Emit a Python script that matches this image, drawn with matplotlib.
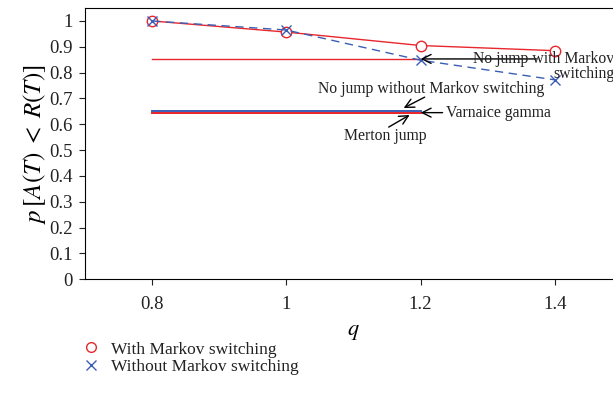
import numpy as np
import matplotlib
matplotlib.use('Agg')
import matplotlib.pyplot as plt
from matplotlib.lines import Line2D

plt.rcParams['font.family'] = ['Liberation Serif', 'DejaVu Serif']
plt.rcParams['mathtext.fontset'] = 'stix'
plt.rcParams['text.color'] = '#222222'
plt.rcParams['xtick.color'] = '#222222'
plt.rcParams['ytick.color'] = '#222222'

q = [0.8, 1.0, 1.2, 1.4]
with_markov = [1.0, 0.957, 0.905, 0.885]
without_markov = [1.0, 0.965, 0.848, 0.772]

# constant levels of the other models, drawn over q in [0.8, 1.2]
nojump_with = 0.853
nojump_without = 0.652
varnaice_gamma = 0.645
merton_jump = 0.642
level_span = [0.8, 1.2]

red = '#e8262b'
blue = '#3b5eb4'

fig = plt.figure(figsize=(6.13, 4.04), dpi=100)
ax = fig.add_axes([0.1387, 0.309, 0.876, 0.671])

ax.plot(level_span, [nojump_with]*2, color=red, lw=1.0)
ax.plot(level_span, [nojump_without]*2, color=blue, lw=1.4)
ax.plot(level_span, [varnaice_gamma]*2, color=red, lw=1.3)
ax.plot(level_span, [merton_jump]*2, color=red, lw=1.3)

ax.plot(q, with_markov, color=red, lw=1.0, marker='o', ms=7.5, mfc='white', mec=red, mew=1.0)
ax.plot(q, without_markov, color=blue, lw=1.0, ls=(0, (6, 4)), marker='x', ms=7.5, mec=blue, mew=1.0)

# annotations: arrows and labels drawn separately
arrow = dict(arrowstyle='->', color='black', lw=1.0, shrinkA=0, shrinkB=0, mutation_scale=16)
fs = 11.3
ax.annotate('', xy=(1.2, nojump_with), xytext=(1.3725, nojump_with), arrowprops=arrow)
ax.text(1.2773, nojump_with, 'No jump with Markov', ha='left', va='center', fontsize=fs)
ax.text(1.4885, 0.795, 'switching', ha='right', va='center', fontsize=fs)

ax.annotate('', xy=(1.1747, 0.663), xytext=(1.206, 0.705), arrowprops=arrow)
ax.text(1.2149, 0.736, 'No jump without Markov switching', ha='center', va='center', fontsize=fs)

ax.annotate('', xy=(1.2, varnaice_gamma), xytext=(1.2327, varnaice_gamma), arrowprops=arrow)
ax.text(1.2372, varnaice_gamma, 'Varnaice gamma', ha='left', va='center', fontsize=fs)

ax.annotate('', xy=(1.1836, 0.636), xytext=(1.1524, 0.589), arrowprops=arrow)
ax.text(1.148, 0.554, 'Merton jump', ha='center', va='center', fontsize=fs)

ax.set_xlim(0.7, 1.5)
ax.set_ylim(0, 1.05)
ax.set_xticks([0.8, 1.0, 1.2, 1.4])
ax.set_xticklabels(['0.8', '1', '1.2', '1.4'])
ax.set_yticks(np.arange(0, 1.01, 0.1))
ax.set_yticklabels(['0'] + ['%.1f' % v for v in np.arange(0.1, 0.95, 0.1)] + ['1'])
ax.tick_params(direction='out', length=4, width=0.8, labelsize=13.5, pad=5)
ax.tick_params(axis='x', pad=8)
ax.set_xlabel('$q$', fontsize=16, labelpad=7)
ax.set_ylabel(r'$p\,[A(T)\;<\;R(T)]$', fontsize=18, labelpad=1)
for s in ax.spines.values():
    s.set_linewidth(0.8)

handles = [Line2D([], [], ls='none', marker='o', ms=7, mfc='white', mec=red, mew=1.0),
           Line2D([], [], ls='none', marker='x', ms=7, mec=blue, mew=1.0)]
fig.legend(handles, ['With Markov switching', 'Without Markov switching'],
           loc='upper left', bbox_to_anchor=(0.135, 0.155), frameon=False,
           fontsize=12.5, handlelength=1.0, handletextpad=0.6, labelspacing=0.1,
           borderaxespad=0, borderpad=0)

fig.savefig('out.png', dpi=100)
